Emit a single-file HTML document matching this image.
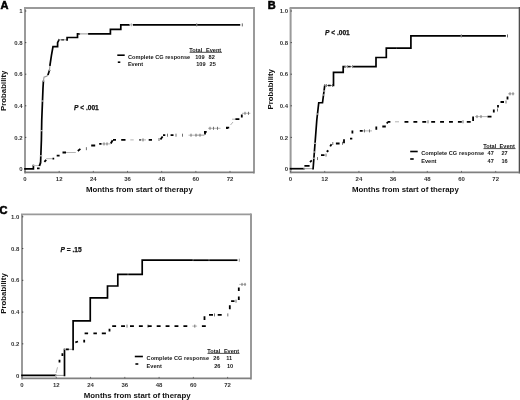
<!DOCTYPE html>
<html><head><meta charset="utf-8"><style>
html,body{margin:0;padding:0;background:#fff;width:520px;height:400px;overflow:hidden}
svg{display:block;will-change:transform}
text{font-family:"Liberation Sans", sans-serif;fill:#111}
.tk{font-size:6px;font-weight:bold;fill:#333}
.ttl{font-size:7.85px;font-weight:bold;fill:#111}
.let{font-size:11px;font-weight:bold;fill:#000;stroke:#000;stroke-width:0.55px}
.lg{font-size:5.6px;font-weight:bold;fill:#151515}
.lgh{font-size:6.5px;letter-spacing:-0.1px;fill:#111;stroke:#111;stroke-width:0.15px}
.pv{font-size:6.6px;font-weight:bold;fill:#111;stroke:#111;stroke-width:0.25px}
</style></head><body>
<svg width="520" height="400" viewBox="0 0 520 400">
<rect width="520" height="400" fill="#fff"/>
<path d="M24,8H254" fill="none" stroke="#9a9a9a" stroke-width="1.9"/>
<path d="M254,7V173.4" fill="none" stroke="#9a9a9a" stroke-width="2"/>
<path d="M25,8V173.4" fill="none" stroke="#9a9a9a" stroke-width="2"/>
<path d="M25,172.4H254" fill="none" stroke="#808080" stroke-width="1.8"/>
<path d="M25,169.00h1.3" stroke="#444" stroke-width="1"/>
<text x="22.6" y="171.10" text-anchor="end" class="tk">0</text>
<path d="M25,137.40h1.3" stroke="#444" stroke-width="1"/>
<text x="22.6" y="139.50" text-anchor="end" class="tk">0.2</text>
<path d="M25,105.80h1.3" stroke="#444" stroke-width="1"/>
<text x="22.6" y="107.90" text-anchor="end" class="tk">0.4</text>
<path d="M25,74.20h1.3" stroke="#444" stroke-width="1"/>
<text x="22.6" y="76.30" text-anchor="end" class="tk">0.6</text>
<path d="M25,42.60h1.3" stroke="#444" stroke-width="1"/>
<text x="22.6" y="44.70" text-anchor="end" class="tk">0.8</text>
<path d="M25,11.00h1.3" stroke="#444" stroke-width="1"/>
<text x="22.6" y="13.10" text-anchor="end" class="tk">1</text>
<path d="M25.00,172.4v-1.5" stroke="#555" stroke-width="0.8"/>
<text x="25.00" y="181.00" text-anchor="middle" class="tk">0</text>
<path d="M59.17,172.4v-1.5" stroke="#555" stroke-width="0.8"/>
<text x="59.17" y="181.00" text-anchor="middle" class="tk">12</text>
<path d="M93.34,172.4v-1.5" stroke="#555" stroke-width="0.8"/>
<text x="93.34" y="181.00" text-anchor="middle" class="tk">24</text>
<path d="M127.51,172.4v-1.5" stroke="#555" stroke-width="0.8"/>
<text x="127.51" y="181.00" text-anchor="middle" class="tk">36</text>
<path d="M161.68,172.4v-1.5" stroke="#555" stroke-width="0.8"/>
<text x="161.68" y="181.00" text-anchor="middle" class="tk">48</text>
<path d="M195.85,172.4v-1.5" stroke="#555" stroke-width="0.8"/>
<text x="195.85" y="181.00" text-anchor="middle" class="tk">60</text>
<path d="M230.02,172.4v-1.5" stroke="#555" stroke-width="0.8"/>
<text x="230.02" y="181.00" text-anchor="middle" class="tk">72</text>
<text x="86" y="191.8" class="ttl">Months from start of therapy</text>
<text transform="translate(5.9,90.8) rotate(-90)" x="0" y="0" text-anchor="middle" class="ttl">Probability</text>
<text x="0.6" y="8.6" class="let">A</text>
<path d="M25,168.8H33.4V165.6" fill="none" stroke="#000" stroke-width="1.7" stroke-linejoin="miter" stroke-linecap="square"/>
<path d="M33.4,165.6H40.6V162" fill="none" stroke="#bbb" stroke-width="1.0" stroke-linejoin="miter" stroke-linecap="square"/>
<path d="M40.6,162L41.4,140L41.75,120L43,88L43.4,81.4" fill="none" stroke="#000" stroke-width="1.7" stroke-linejoin="miter" stroke-linecap="square"/>
<path d="M43.4,81.4L44,77.2L47,76L48.2,74.2" fill="none" stroke="#999" stroke-width="1.1" stroke-linejoin="miter" stroke-linecap="square"/>
<path d="M48.2,74.2L49.4,70.6" fill="none" stroke="#000" stroke-width="1.7" stroke-linejoin="miter" stroke-linecap="square"/>
<path d="M49.4,70.6L50,65" fill="none" stroke="#999" stroke-width="1.1" stroke-linejoin="miter" stroke-linecap="square"/>
<path d="M50,65L51.4,55.6L53,46.6H57.6V42.6L59,39.8" fill="none" stroke="#000" stroke-width="1.7" stroke-linejoin="miter" stroke-linecap="square"/>
<path d="M59,39.8H67.1" fill="none" stroke="#999" stroke-width="1.0" stroke-linejoin="miter" stroke-linecap="square"/>
<path d="M62,39.8H63.3" fill="none" stroke="#444" stroke-width="1.5" stroke-linejoin="miter" stroke-linecap="square"/>
<path d="M67.1,39.8V37.5H77.5V33.9H79.2" fill="none" stroke="#000" stroke-width="1.7" stroke-linejoin="miter" stroke-linecap="square"/>
<path d="M79.2,33.9H89" fill="none" stroke="#999" stroke-width="1.0" stroke-linejoin="miter" stroke-linecap="square"/>
<path d="M89,33.9H110.4V29.4H120.8V24.8H129" fill="none" stroke="#000" stroke-width="1.7" stroke-linejoin="miter" stroke-linecap="square"/>
<path d="M129.7,24.8H133" fill="none" stroke="#bbb" stroke-width="1.0" stroke-linejoin="miter" stroke-linecap="square"/>
<path d="M131.3,23.3v3" stroke="#aaa" stroke-width="1"/>
<path d="M133.8,24.8H195.5" fill="none" stroke="#000" stroke-width="1.7" stroke-linejoin="miter" stroke-linecap="square"/>
<path d="M198,24.8H239.4" fill="none" stroke="#000" stroke-width="1.7" stroke-linejoin="miter" stroke-linecap="square"/>
<path d="M242.3,23.4v3M196.7,23.4v3" stroke="#666" stroke-width="1"/>
<path d="M39.63,155.8H42.43" stroke="#c8c8c8" stroke-width="1.1"/><path d="M40.160000000000004,130.7H42.96" stroke="#c8c8c8" stroke-width="1.1"/><path d="M41.1,101H43.9" stroke="#c8c8c8" stroke-width="1.1"/>
<path d="M46.2,158.7H52.5M66,152.5H75.8M101.5,143.9H110.5M130.3,139.9H133.7M140.6,139.9H146M188.5,135.2H204M195,135.2H204.5M208,128.3H220.5M230.5,125L233,122M232,119.2H235.4M242,113.3H250.4" fill="none" stroke="#b4b4b4" stroke-width="1"/>
<path d="M86.4,147.2v3M104,142.4v3M107,142.4v3M143,138.4v3M159,138.0v3M167.5,133.7v3M176,133.7v3M182.5,133.7v3M191,133.7v3M196,133.7v3M200,133.7v3M210,126.80000000000001v3M213.5,126.80000000000001v3M217.5,126.80000000000001v3M245,111.8v3M248.5,111.8v3" fill="none" stroke="#707070" stroke-width="1"/>
<path d="M37,168.4H39.6M39.3,166L40.6,162.6M44.4,161.8L46.2,159.8M52.5,158.6H54.2M56.7,155.6H59.6M62.5,152.5H66M77.8,151L80.4,148.9M91.2,145.5H95.2M99.2,143.9H101.5M110.8,143.5L112.6,140.2M113,139.9H116M121.2,139.9H125.5M139.4,139.9H140.6M148.7,139.9H152M160.5,139.5L162.6,136.5M163,135.2H165.3M170.6,135.2H173.5M204,131.8H206.7M205,131.8V134.5M226,127.7H229.2M227,127.5V129M235.4,119.2H239.4M241.8,114.5V117.5" fill="none" stroke="#000" stroke-width="1.8"/>
<path d="M117.3,55.2H124.7" stroke="#000" stroke-width="1.6"/>
<path d="M117.8,62.2H120.3" stroke="#000" stroke-width="1.6"/>
<text x="127.9" y="58.7" class="lg" textLength="62.3" lengthAdjust="spacing">Complete CG response</text>
<text x="127.9" y="66.3" class="lg">Event</text>
<text x="189.3" y="51.5" class="lg">Total</text>
<text x="206.0" y="51.5" class="lg">Event</text>
<path d="M189.6,52.3H222" stroke="#222" stroke-width="0.8"/>
<text x="204.6" y="58.7" class="lg" text-anchor="end">109</text>
<text x="208.6" y="58.7" class="lg">82</text>
<text x="205.6" y="66.3" class="lg" text-anchor="end">109</text>
<text x="209.6" y="66.3" class="lg">25</text>
<text x="74" y="109.9" class="pv"><tspan font-style="italic">P</tspan> &lt; .001</text>
<path d="M289.6,8H519.4" fill="none" stroke="#9a9a9a" stroke-width="1.9"/>
<path d="M519.4,7V173.4" fill="none" stroke="#4d4d4d" stroke-width="1.4"/>
<path d="M290.6,8V173.4" fill="none" stroke="#9a9a9a" stroke-width="2"/>
<path d="M290.6,172.4H519.4" fill="none" stroke="#808080" stroke-width="1.8"/>
<path d="M290.6,169.00h1.3" stroke="#444" stroke-width="1"/>
<text x="288" y="171.10" text-anchor="end" class="tk">0</text>
<path d="M290.6,137.40h1.3" stroke="#444" stroke-width="1"/>
<text x="288" y="139.50" text-anchor="end" class="tk">0.2</text>
<path d="M290.6,105.80h1.3" stroke="#444" stroke-width="1"/>
<text x="288" y="107.90" text-anchor="end" class="tk">0.4</text>
<path d="M290.6,74.20h1.3" stroke="#444" stroke-width="1"/>
<text x="288" y="76.30" text-anchor="end" class="tk">0.6</text>
<path d="M290.6,42.60h1.3" stroke="#444" stroke-width="1"/>
<text x="288" y="44.70" text-anchor="end" class="tk">0.8</text>
<path d="M290.6,11.00h1.3" stroke="#444" stroke-width="1"/>
<text x="288" y="13.10" text-anchor="end" class="tk">1.0</text>
<path d="M290.50,172.4v-1.5" stroke="#555" stroke-width="0.8"/>
<text x="290.50" y="181.00" text-anchor="middle" class="tk">0</text>
<path d="M324.70,172.4v-1.5" stroke="#555" stroke-width="0.8"/>
<text x="324.70" y="181.00" text-anchor="middle" class="tk">12</text>
<path d="M358.90,172.4v-1.5" stroke="#555" stroke-width="0.8"/>
<text x="358.90" y="181.00" text-anchor="middle" class="tk">24</text>
<path d="M393.10,172.4v-1.5" stroke="#555" stroke-width="0.8"/>
<text x="393.10" y="181.00" text-anchor="middle" class="tk">36</text>
<path d="M427.30,172.4v-1.5" stroke="#555" stroke-width="0.8"/>
<text x="427.30" y="181.00" text-anchor="middle" class="tk">48</text>
<path d="M461.50,172.4v-1.5" stroke="#555" stroke-width="0.8"/>
<text x="461.50" y="181.00" text-anchor="middle" class="tk">60</text>
<path d="M495.70,172.4v-1.5" stroke="#555" stroke-width="0.8"/>
<text x="495.70" y="181.00" text-anchor="middle" class="tk">72</text>
<text x="352" y="192" class="ttl">Months from start of therapy</text>
<text transform="translate(272.9,89.3) rotate(-90)" x="0" y="0" text-anchor="middle" class="ttl">Probability</text>
<text x="267.8" y="8.6" class="let">B</text>
<path d="M290.5,168.7H303.8" fill="none" stroke="#000" stroke-width="1.7" stroke-linejoin="miter" stroke-linecap="square"/>
<path d="M303.8,168.7H313" fill="none" stroke="#999" stroke-width="1.0" stroke-linejoin="miter" stroke-linecap="square"/>
<path d="M313.1,168.7L316.8,120L318.75,102.75H322.5L324.75,85.5" fill="none" stroke="#000" stroke-width="1.7" stroke-linejoin="miter" stroke-linecap="square"/>
<path d="M324.75,85.5H333.5" fill="none" stroke="#888" stroke-width="1.0" stroke-linejoin="miter" stroke-linecap="square"/>
<path d="M328.8,85.5H329.9" fill="none" stroke="#111" stroke-width="1.6" stroke-linejoin="miter" stroke-linecap="square"/>
<path d="M332.5,84v3M326.5,84v3" stroke="#888" stroke-width="1"/>
<path d="M333.5,85.5V72.4H343.2V66.6H345" fill="none" stroke="#000" stroke-width="1.7" stroke-linejoin="miter" stroke-linecap="square"/>
<path d="M345,66.6H354" fill="none" stroke="#999" stroke-width="1.0" stroke-linejoin="miter" stroke-linecap="square"/>
<path d="M348.6,66.6H349.8" fill="none" stroke="#111" stroke-width="1.6" stroke-linejoin="miter" stroke-linecap="square"/>
<path d="M347.3,65.1v3M352.5,65.1v3" stroke="#888" stroke-width="1"/>
<path d="M354,66.6H376V57.5H386.3V48.2H395.8" fill="none" stroke="#000" stroke-width="1.7" stroke-linejoin="miter" stroke-linecap="square"/>
<path d="M397.3,48.2H410.9V35.9H460" fill="none" stroke="#000" stroke-width="1.7" stroke-linejoin="miter" stroke-linecap="square"/>
<path d="M462.5,35.9H505" fill="none" stroke="#000" stroke-width="1.7" stroke-linejoin="miter" stroke-linecap="square"/>
<path d="M507.5,34.4v3M461.3,34.4v3" stroke="#666" stroke-width="1"/>
<path d="M313.63,143.3H316.42999999999995" stroke="#c8c8c8" stroke-width="1.1"/><path d="M312.97,152H315.77" stroke="#c8c8c8" stroke-width="1.1"/><path d="M312.5,158.2H315.29999999999995" stroke="#c8c8c8" stroke-width="1.1"/><path d="M315.8,114H318.59999999999997" stroke="#c8c8c8" stroke-width="1.1"/><path d="M322.20000000000005,95H325.0" stroke="#c8c8c8" stroke-width="1.1"/><path d="M322.70000000000005,91H325.5" stroke="#c8c8c8" stroke-width="1.1"/>
<path d="M362.7,130.9H372M395,121.8H399M475,116.6H487M508,93.8H514.5" fill="none" stroke="#b4b4b4" stroke-width="1"/>
<path d="M317.5,157.1v3M326,153.6v3M332.8,142.0v3M342.5,141.8v3M364.5,129.4v3M369.5,129.4v3M428,120.3v3M463,120.3v3M477,115.1v3M481,115.1v3M497.5,108.5v3M506,100.5v3M510,92.3v3M513,92.3v3" fill="none" stroke="#707070" stroke-width="1"/>
<path d="M304.4,165.8H309.6M310,162.1L311.8,160.4M321,155.1H324.5M326.7,151.8L328.4,150.5M330.2,146.4L331.5,144.2M335.9,143.5H339.6M344,139.2V143.3M350,138.7H352.3M352.4,130.6V133.6M359.8,130.9H362.7M376.3,126.5V129.8M382.3,126.5H385.8M386.8,123.5L388,121.8M388,121.8H390.4M404.50,121.8H408.40M413.40,121.8H417.30M422.30,121.8H426.20M431.20,121.8H435.10M440.10,121.8H444.00M449.00,121.8H452.90M457.90,121.8H461.80M466.80,121.8H470.70M473.1,116.6V121M487.5,116.6H491.5M493.8,109.5V112.5M498,105V107.5M500.5,102H504M507.5,96.5V99.5" fill="none" stroke="#000" stroke-width="1.8"/>
<path d="M410.2,151.5H417.7" stroke="#000" stroke-width="1.6"/>
<path d="M410.2,159H413.7" stroke="#000" stroke-width="1.6"/>
<text x="421.2" y="155.0" class="lg" textLength="63" lengthAdjust="spacing">Complete CG response</text>
<text x="421.2" y="162.6" class="lg">Event</text>
<text x="483.3" y="147.7" class="lg">Total</text>
<text x="499.6" y="147.7" class="lg">Event</text>
<path d="M483.5,148.6H515.5" stroke="#222" stroke-width="0.8"/>
<text x="493.8" y="155.0" class="lg" text-anchor="end">47</text>
<text x="501.5" y="155.0" class="lg">27</text>
<text x="493.8" y="162.6" class="lg" text-anchor="end">47</text>
<text x="501.5" y="162.6" class="lg">16</text>
<text x="325" y="34.9" class="pv"><tspan font-style="italic">P</tspan> &lt; .001</text>
<path d="M21,214.4H251" fill="none" stroke="#9a9a9a" stroke-width="1.9"/>
<path d="M251,213.4V379.4" fill="none" stroke="#9a9a9a" stroke-width="2"/>
<path d="M22,214.4V379.4" fill="none" stroke="#9a9a9a" stroke-width="2"/>
<path d="M22,378.4H251" fill="none" stroke="#808080" stroke-width="1.8"/>
<path d="M22,375.60h1.3" stroke="#444" stroke-width="1"/>
<text x="19.3" y="377.70" text-anchor="end" class="tk">0</text>
<path d="M22,343.84h1.3" stroke="#444" stroke-width="1"/>
<text x="19.3" y="345.94" text-anchor="end" class="tk">0.2</text>
<path d="M22,312.08h1.3" stroke="#444" stroke-width="1"/>
<text x="19.3" y="314.18" text-anchor="end" class="tk">0.4</text>
<path d="M22,280.32h1.3" stroke="#444" stroke-width="1"/>
<text x="19.3" y="282.42" text-anchor="end" class="tk">0.6</text>
<path d="M22,248.56h1.3" stroke="#444" stroke-width="1"/>
<text x="19.3" y="250.66" text-anchor="end" class="tk">0.8</text>
<path d="M22,216.80h1.3" stroke="#444" stroke-width="1"/>
<text x="19.3" y="218.90" text-anchor="end" class="tk">1.0</text>
<path d="M22.00,378.4v-1.5" stroke="#555" stroke-width="0.8"/>
<text x="22.00" y="387.00" text-anchor="middle" class="tk">0</text>
<path d="M56.27,378.4v-1.5" stroke="#555" stroke-width="0.8"/>
<text x="56.27" y="387.00" text-anchor="middle" class="tk">12</text>
<path d="M90.54,378.4v-1.5" stroke="#555" stroke-width="0.8"/>
<text x="90.54" y="387.00" text-anchor="middle" class="tk">24</text>
<path d="M124.81,378.4v-1.5" stroke="#555" stroke-width="0.8"/>
<text x="124.81" y="387.00" text-anchor="middle" class="tk">36</text>
<path d="M159.08,378.4v-1.5" stroke="#555" stroke-width="0.8"/>
<text x="159.08" y="387.00" text-anchor="middle" class="tk">48</text>
<path d="M193.35,378.4v-1.5" stroke="#555" stroke-width="0.8"/>
<text x="193.35" y="387.00" text-anchor="middle" class="tk">60</text>
<path d="M227.62,378.4v-1.5" stroke="#555" stroke-width="0.8"/>
<text x="227.62" y="387.00" text-anchor="middle" class="tk">72</text>
<text x="83.8" y="397.5" class="ttl">Months from start of therapy</text>
<text transform="translate(5.9,293.5) rotate(-90)" x="0" y="0" text-anchor="middle" class="ttl">Probability</text>
<text x="-0.5" y="213.9" class="let">C</text>
<path d="M22,375.4H55.5" fill="none" stroke="#000" stroke-width="1.7" stroke-linejoin="miter" stroke-linecap="square"/>
<path d="M55.5,375.4H64.5" fill="none" stroke="#999" stroke-width="1.0" stroke-linejoin="miter" stroke-linecap="square"/>
<path d="M64.5,375.4V349.5" fill="none" stroke="#000" stroke-width="1.7" stroke-linejoin="miter" stroke-linecap="square"/>
<path d="M64.5,349.3H73.1" fill="none" stroke="#999" stroke-width="1.0" stroke-linejoin="miter" stroke-linecap="square"/>
<path d="M73.1,349.3V320.9H90.25V297.8H107.5V286H117.8V274.4H127" fill="none" stroke="#000" stroke-width="1.7" stroke-linejoin="miter" stroke-linecap="square"/>
<path d="M129,274.4H142.2V260.2H192" fill="none" stroke="#000" stroke-width="1.7" stroke-linejoin="miter" stroke-linecap="square"/>
<path d="M194,260.2H208" fill="none" stroke="#000" stroke-width="1.7" stroke-linejoin="miter" stroke-linecap="square"/>
<path d="M210,260.2H236.6" fill="none" stroke="#000" stroke-width="1.7" stroke-linejoin="miter" stroke-linecap="square"/>
<path d="M239.3,258.7v3" stroke="#999" stroke-width="1"/>
<path d="M56,373L57.5,367.3M192.3,326.1H197.1M239.2,284.4H246.2" fill="none" stroke="#b4b4b4" stroke-width="1"/>
<path d="M127,324.6v3M148,324.6v3M194.8,324.6v3M214.5,313.4v3M227.8,313.4v3M236,299.7v3M242,282.9v3M245,282.9v3" fill="none" stroke="#707070" stroke-width="1"/>
<path d="M59.5,359.7V362.4M62.4,353.3V356M66,349.3H68.8M75.3,342.3L78,341.5M84.2,339.8V342.5M84.6,333.4H88.1M93.4,333.4H96.9M101.8,333.4H105.9M109.5,328.7V331.4M112.20,326.1H116.10M121.10,326.1H125.00M130.00,326.1H133.90M138.90,326.1H142.80M147.80,326.1H151.70M156.70,326.1H160.60M165.60,326.1H169.50M174.50,326.1H178.40M183.40,326.1H187.30M201.90,326.1H205.80M204.5,316.2V320M209,314.9H213M217.7,314.9H221.7M229.8,305.2V309.2M231.1,301.2H234.5M238.8,296.4V300.1M238.8,287.5V291" fill="none" stroke="#000" stroke-width="1.8"/>
<path d="M134.8,356.5H142.9" stroke="#000" stroke-width="1.6"/>
<path d="M135.4,364H138.3" stroke="#000" stroke-width="1.6"/>
<text x="146.6" y="360.3" class="lg" textLength="62.5" lengthAdjust="spacing">Complete CG response</text>
<text x="146.6" y="367.8" class="lg">Event</text>
<text x="207.3" y="352.6" class="lg">Total</text>
<text x="223.9" y="352.6" class="lg">Event</text>
<path d="M207.5,353.4H239.5" stroke="#222" stroke-width="0.8"/>
<text x="219.6" y="360.3" class="lg" text-anchor="end">26</text>
<text x="226.2" y="360.3" class="lg">11</text>
<text x="220.4" y="367.8" class="lg" text-anchor="end">26</text>
<text x="227.0" y="367.8" class="lg">10</text>
<text x="60.6" y="251.8" class="pv"><tspan font-style="italic">P</tspan> = .15</text>
</svg>
</body></html>
